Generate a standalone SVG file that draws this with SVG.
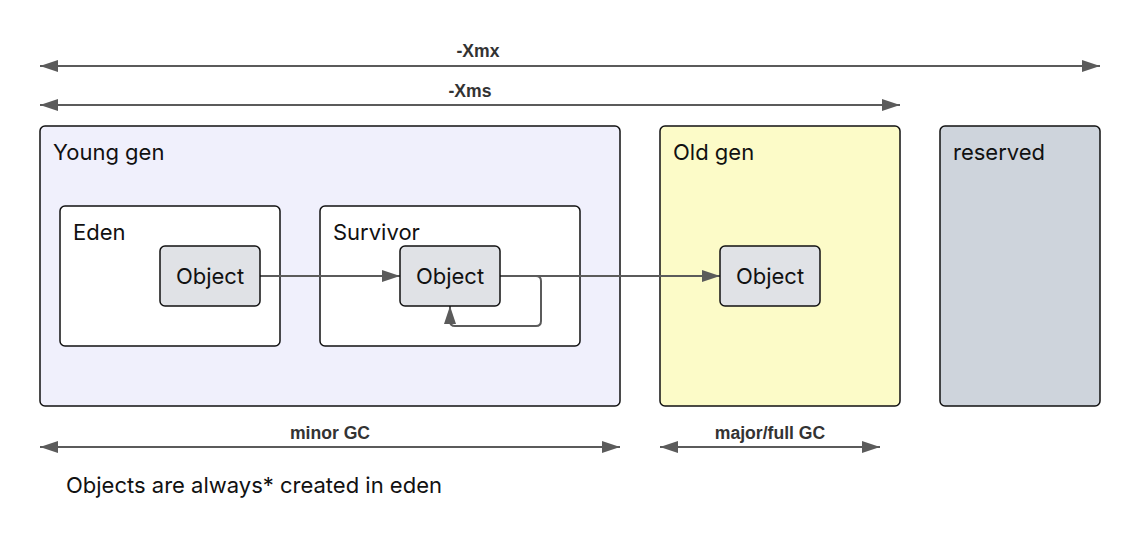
<svg xmlns="http://www.w3.org/2000/svg" width="1140" height="542" viewBox="0 0 1140 542">
<defs>
<marker id="ah" viewBox="0 0 18 12" refX="18" refY="6" markerWidth="18" markerHeight="12" markerUnits="userSpaceOnUse" orient="auto-start-reverse">
<path d="M0,0 L18,6 L0,12 Z" fill="#5b5b5b"/>
</marker>
<style>
text{font-family:Inter,"Noto Sans","Liberation Sans",sans-serif;fill:#111}
.box{stroke:#111;stroke-width:1.5}
.t{font-size:22px}
.lbl{font-family:"Liberation Sans",Arial,sans-serif;font-size:17.6px;font-weight:bold;fill:#333;text-anchor:middle}
.obj{font-size:22px;text-anchor:middle}
.c{fill:none;stroke:#5b5b5b;stroke-width:2}
</style>
</defs>
<rect width="1140" height="542" fill="#fff"/>
<g id="connectors">
<line class="c" x1="40" y1="66" x2="1100" y2="66" marker-start="url(#ah)" marker-end="url(#ah)"/>
<line class="c" x1="40" y1="105" x2="900" y2="105" marker-start="url(#ah)" marker-end="url(#ah)"/>
<line class="c" x1="40" y1="447" x2="620" y2="447" marker-start="url(#ah)" marker-end="url(#ah)"/>
<line class="c" x1="660" y1="447" x2="880" y2="447" marker-start="url(#ah)" marker-end="url(#ah)"/>
</g>
<text class="lbl" x="478" y="57">-Xmx</text>
<text class="lbl" x="470" y="97">-Xms</text>
<text class="lbl" x="330" y="439">minor GC</text>
<text class="lbl" x="770" y="439">major/full GC</text>
<g id="young"><rect class="box" x="40" y="126" width="580" height="280" rx="5" fill="#f0f0fc"/><text class="t" x="53" y="160">Young gen</text></g>
<g id="old"><rect class="box" x="660" y="126" width="240" height="280" rx="5" fill="#fcfbc8"/><text class="t" x="673" y="160">Old gen</text></g>
<g id="reserved"><rect class="box" x="940" y="126" width="160" height="280" rx="5" fill="#ced4dc"/><text class="t" x="953" y="160">reserved</text></g>
<g id="eden"><rect class="box" x="60" y="206" width="220" height="140" rx="5" fill="#fff"/><text class="t" x="73" y="240">Eden</text></g>
<g id="survivor"><rect class="box" x="320" y="206" width="260" height="140" rx="5" fill="#fff"/><text class="t" x="333" y="240">Survivor</text></g>
<g id="connectors2">
<line class="c" x1="260" y1="276" x2="400" y2="276" marker-end="url(#ah)"/>
<line class="c" x1="500" y1="276" x2="720" y2="276" marker-end="url(#ah)"/>
<path class="c" d="M500,276 H536 Q541,276 541,281 V321 Q541,326 536,326 H455 Q450,326 450,321 V306" marker-end="url(#ah)"/>
</g>
<g id="obj-eden"><rect class="box" x="160" y="246" width="100" height="60" rx="5" fill="#e0e2e6"/><text class="obj" x="210" y="284">Object</text></g>
<g id="obj-survivor"><rect class="box" x="400" y="246" width="100" height="60" rx="5" fill="#e0e2e6"/><text class="obj" x="450" y="284">Object</text></g>
<g id="obj-old"><rect class="box" x="720" y="246" width="100" height="60" rx="5" fill="#e0e2e6"/><text class="obj" x="770" y="284">Object</text></g>
<text class="t" x="66" y="493">Objects are always* created in eden</text>
</svg>
